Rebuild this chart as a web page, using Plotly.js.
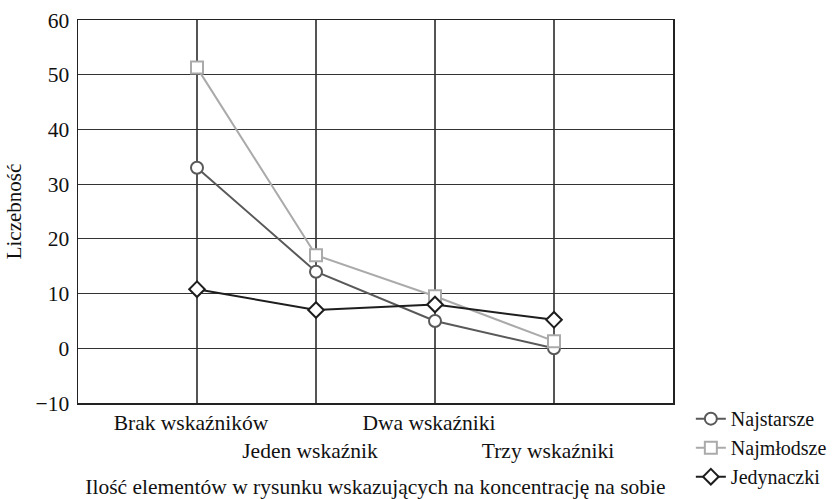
<!DOCTYPE html>
<html><head><meta charset="utf-8">
<script src="https://cdn.plot.ly/plotly-3.0.1.min.js"></script>
<style>
body{margin:0;padding:0;background:#fff}
#chart{width:838px;height:499px}
svg text{font-family:"Liberation Serif","Times New Roman",serif !important;}
</style>
</head><body><div id="chart"></div>
<script>
const categories = ["Brak wskaźników", "Jeden wskaźnik", "Dwa wskaźniki", "Trzy wskaźniki"];
const tickLabels = ["Brak wskaźników", "<br>Jeden wskaźnik", "Dwa wskaźniki", "<br>Trzy wskaźniki"];
const najstarsze = [33, 14, 5, 0];
const najmlodsze = [51.3, 17, 9.5, 1.3];
const jedynaczki = [10.8, 7, 8, 5.2];
const seriesNames = ["Najstarsze", "Najmłodsze", "Jedynaczki"];
const yTickVals = [-10, 0, 10, 20, 30, 40, 50, 60];
const yTickText = ["−10", "0", "10", "20", "30", "40", "50", "60"];

(function () {
  const serifFamily = "Liberation Serif, Times New Roman, serif";
  function tr(name, y, color, symbol) {
    return {
      type: "scatter", mode: "lines+markers", name: name, x: categories, y: y,
      line: {color: color, width: 2},
      marker: {symbol: symbol, size: 12, color: "#fff", line: {color: color, width: 2}},
      cliponaxis: false
    };
  }
  const data = [
    tr(seriesNames[0], najstarsze, "#595959", "circle"),
    tr(seriesNames[1], najmlodsze, "#aaaaaa", "square"),
    tr(seriesNames[2], jedynaczki, "#1e1e1e", "diamond")
  ];
  const layout = {
    width: 838, height: 499,
    margin: {l: 78, r: 165, t: 20, b: 96, autoexpand: false},
    paper_bgcolor: "#fff", plot_bgcolor: "#fff",
    font: {family: serifFamily, size: 21, color: "#111"},
    showlegend: true,
    legend: {x: 1.03, xanchor: "left", y: 0.01, yanchor: "top", font: {family: serifFamily, size: 20, color: "#111"},
             tracegroupgap: 0, itemwidth: 30, bgcolor: "rgba(0,0,0,0)"},
    xaxis: {
      type: "category", range: [-1, 4], tickmode: "array", tickvals: categories, ticktext: tickLabels,
      tickangle: 0, automargin: false, ticklabelshift: -6,
      showgrid: true, gridcolor: "#555", gridwidth: 1.5,
      showline: true, linecolor: "#222", linewidth: 1.5, mirror: true,
      ticks: "", zeroline: false, tickfont: {family: serifFamily, size: 21.5, color: "#111"},
      title: {text: "Ilość elementów w rysunku wskazujących na koncentrację na sobie", font: {family: serifFamily, size: 21.5, color: "#111"}, standoff: 16}
    },
    yaxis: {
      range: [-10, 60], tickmode: "array", tickvals: yTickVals, ticktext: yTickText,
      automargin: false, ticklabelstandoff: 3,
      showgrid: true, gridcolor: "#333", gridwidth: 1.2,
      showline: true, linecolor: "#222", linewidth: 1.5, mirror: true,
      ticks: "", zeroline: false, tickfont: {family: serifFamily, size: 21.5, color: "#111"},
      title: {text: "Liczebność", font: {family: serifFamily, size: 21, color: "#111"}, standoff: 8}
    }
  };
  Plotly.newPlot("chart", data, layout, {displayModeBar: false, staticPlot: true});
})();
</script></body></html>
